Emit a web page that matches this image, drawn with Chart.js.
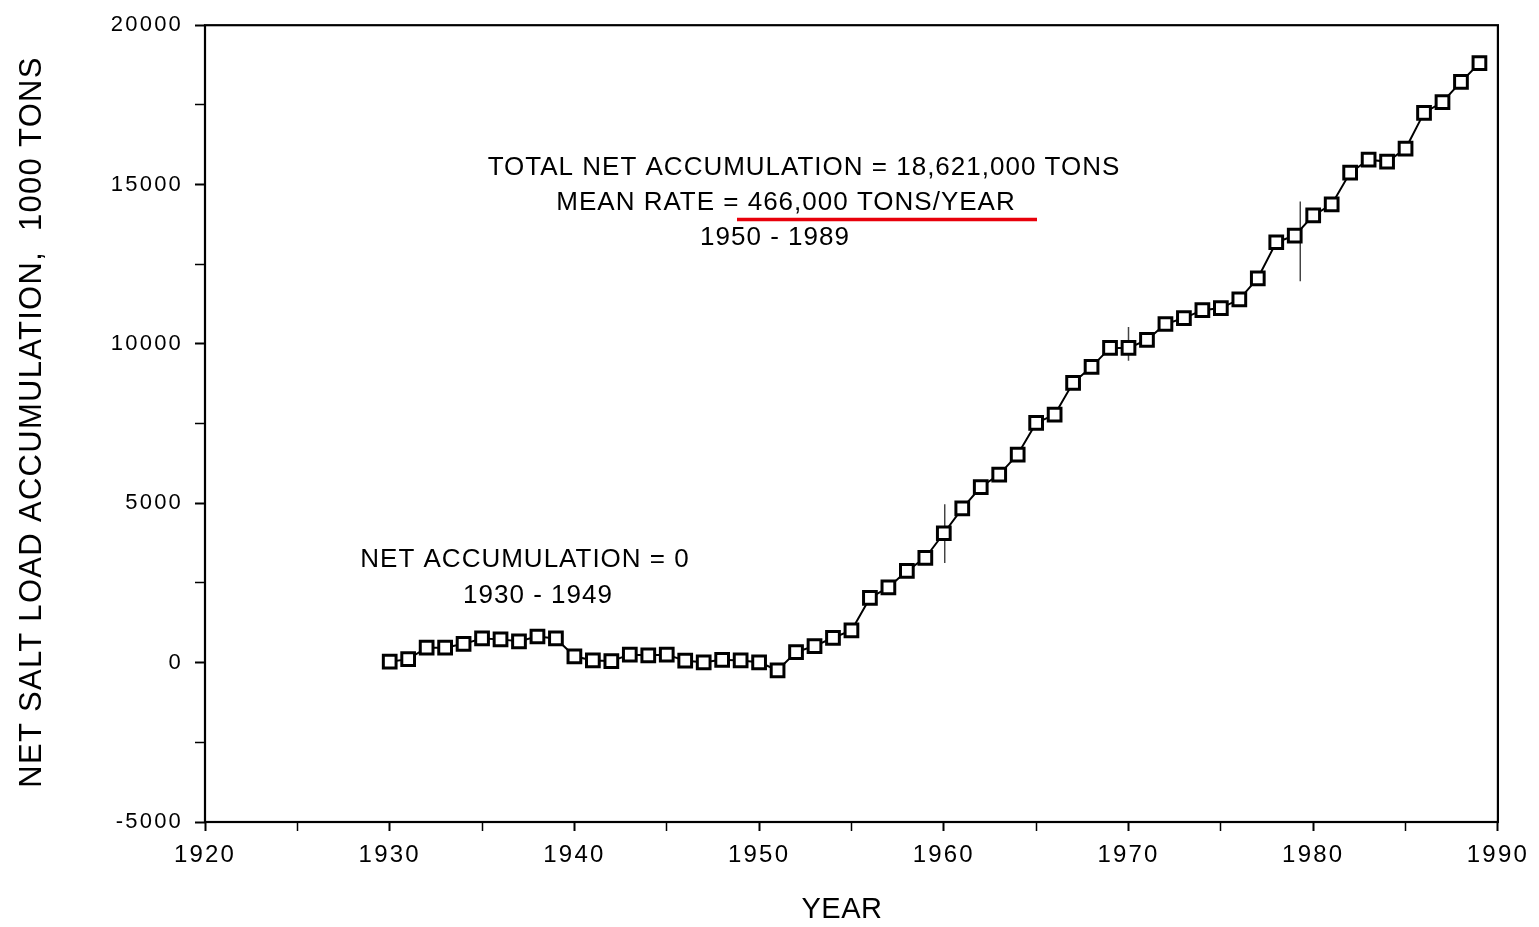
<!DOCTYPE html>
<html>
<head>
<meta charset="utf-8">
<script src="https://cdn.jsdelivr.net/npm/chart.js@4.4.1/dist/chart.umd.min.js"></script>
<style>
  html, body { margin: 0; padding: 0; background: #fff; }
  canvas { display: block; }
</style>
</head>
<body>
<canvas id="c" width="1539" height="927"></canvas>
<script>
// ---- data ----
const years = [1930,1931,1932,1933,1934,1935,1936,1937,1938,1939,
               1940,1941,1942,1943,1944,1945,1946,1947,1948,1949,
               1950,1951,1952,1953,1954,1955,1956,1957,1958,1959,
               1960,1961,1962,1963,1964,1965,1966,1967,1968,1969,
               1970,1971,1972,1973,1974,1975,1976,1977,1978,1979,
               1980,1981,1982,1983,1984,1985,1986,1987,1988,1989];
const accumulation = [30,110,470,470,590,760,730,670,820,760,
                      200,70,50,250,230,250,60,10,90,70,
                      10,-240,330,520,780,1010,2030,2360,2880,3290,
                      4060,4840,5510,5900,6530,7520,7780,8780,9280,9875,
                      9875,10125,10625,10810,11060,11125,11400,12060,13190,13400,
                      14030,14375,15375,15780,15720,16125,17250,17590,18220,18810];
// thin vertical marks seen on the curve (year, top, bottom)
const markYears = [1960.05, 1970, 1979.3];
const markTop = [4970, 10530, 14470];
const markBottom = [3125, 9470, 11970];

const xTicks = [1920, 1930, 1940, 1950, 1960, 1970, 1980, 1990];
const yTicks = [-5000, 0, 5000, 10000, 15000, 20000];

const yTitle = 'NET SALT LOAD ACCUMULATION,  1000 TONS';
const xTitle = 'YEAR';
const notes = [
  {text: 'TOTAL NET ACCUMULATION = 18,621,000 TONS', x: 804, y: 168},
  {text: 'MEAN RATE = 466,000 TONS/YEAR', x: 786, y: 203},
  {text: '1950 - 1989', x: 775, y: 238},
  {text: 'NET ACCUMULATION = 0', x: 525, y: 560},
  {text: '1930 - 1949', x: 538, y: 596}
];

// ---- build datasets ----
const mainData = years.map((y, i) => ({x: y, y: accumulation[i]}));
const markData = [];
markYears.forEach((yr, i) => {
  markData.push({x: yr, y: markTop[i]});
  markData.push({x: yr, y: markBottom[i]});
  markData.push({x: yr, y: null});
});

const FONT = '"Liberation Sans", Arial, Helvetica, sans-serif';

const spacingPlugin = {
  id: 'spacing',
  beforeLayout(chart) { chart.ctx.letterSpacing = '2.2px'; },
  beforeDraw(chart) { chart.ctx.letterSpacing = '2.2px'; },
  beforeDatasetsDraw(chart) {
    const {ctx, chartArea: a} = chart;
    ctx.save();
    ctx.strokeStyle = '#000';
    ctx.lineWidth = 2.2;
    ctx.strokeRect(a.left, a.top, a.right - a.left, a.bottom - a.top);
    ctx.restore();
  },
  afterDraw(chart) {
    const ctx = chart.ctx;
    ctx.save();
    ctx.fillStyle = '#000';
    ctx.textAlign = 'center';
    ctx.textBaseline = 'middle';
    // annotations
    ctx.letterSpacing = '1px';
    ctx.font = '26px ' + FONT;
    notes.forEach(n => ctx.fillText(n.text, n.x, n.y));
    // red underline
    ctx.strokeStyle = '#e8000b';
    ctx.lineWidth = 3.5;
    ctx.beginPath();
    ctx.moveTo(737, 219.5);
    ctx.lineTo(1037, 219.5);
    ctx.stroke();
    // x title
    ctx.letterSpacing = '0.5px';
    ctx.font = '29px ' + FONT;
    ctx.fillText(xTitle, 842, 910);
    // y title
    ctx.translate(32, 422);
    ctx.rotate(-Math.PI / 2);
    ctx.letterSpacing = '1.3px';
    ctx.font = '31px ' + FONT;
    ctx.fillText(yTitle, 0, 0);
    ctx.restore();
    ctx.letterSpacing = '2.2px';
  }
};

new Chart(document.getElementById('c'), {
  type: 'line',
  data: {
    datasets: [
      {
        data: mainData,
        borderColor: '#000',
        borderWidth: 2,
        tension: 0,
        pointStyle: 'rect',
        pointRadius: 9,
        pointBorderWidth: 3,
        pointBorderColor: '#000',
        pointBackgroundColor: '#fff',
        order: 1
      },
      {
        data: markData,
        borderColor: '#444',
        borderWidth: 1.5,
        pointRadius: 0,
        spanGaps: false,
        order: 2
      }
    ]
  },
  options: {
    responsive: false,
    animation: false,
    events: [],
    layout: { padding: { top: 21, right: 39, left: 0, bottom: 0 } },
    plugins: { legend: { display: false }, tooltip: { enabled: false } },
    scales: {
      x: {
        type: 'linear',
        min: 1920, max: 1990,
        afterFit(s) { s.height = 105; },
        afterBuildTicks(s) {
          const t = [];
          for (let i = 0; i < xTicks.length; i++) {
            t.push({value: xTicks[i]});
            if (i < xTicks.length - 1) t.push({value: (xTicks[i] + xTicks[i + 1]) / 2});
          }
          s.ticks = t;
        },
        grid: {
          drawOnChartArea: false,
          drawTicks: true,
          tickLength: 9,
          tickColor: '#000',
          tickWidth: ctx => (xTicks.includes(ctx.tick.value) ? 2 : 1.5)
        },
        border: { display: false },
        ticks: {
          autoSkip: false,
          maxRotation: 0,
          padding: 10,
          color: '#000',
          font: { family: FONT, size: 24 },
          callback: v => (xTicks.includes(v) ? String(v) : '')
        }
      },
      y: {
        type: 'linear',
        min: -5000, max: 20000,
        afterFit(s) { s.width = 205; },
        afterBuildTicks(s) {
          const t = [];
          for (let i = 0; i < yTicks.length; i++) {
            t.push({value: yTicks[i]});
            if (i < yTicks.length - 1) t.push({value: (yTicks[i] + yTicks[i + 1]) / 2});
          }
          s.ticks = t;
        },
        grid: {
          drawOnChartArea: false,
          drawTicks: true,
          tickLength: 10,
          tickColor: '#000',
          tickWidth: ctx => (yTicks.includes(ctx.tick.value) ? 2 : 1.5)
        },
        border: { display: false },
        ticks: {
          autoSkip: false,
          padding: 12,
          color: '#000',
          font: { family: FONT, size: 22 },
          callback: v => (yTicks.includes(v) ? String(v) : '')
        }
      }
    }
  },
  plugins: [spacingPlugin]
});
</script>
</body>
</html>
